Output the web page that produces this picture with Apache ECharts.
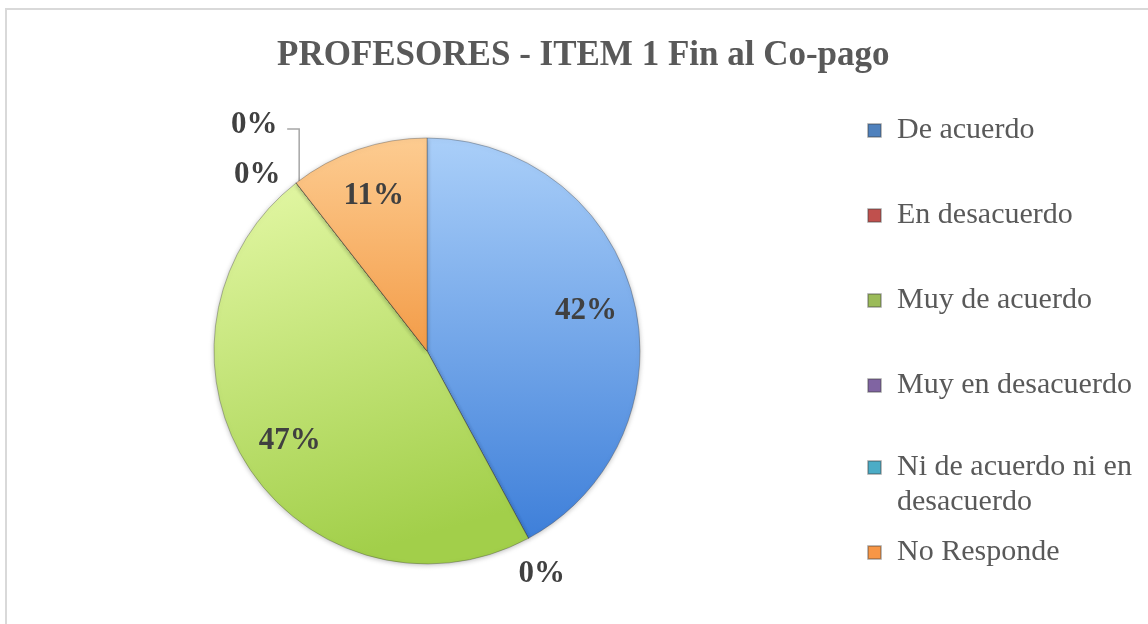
<!DOCTYPE html>
<html lang="es">
<head>
<meta charset="UTF-8">
<title>PROFESORES - ITEM 1 Fin al Co-pago</title>
<script src="https://cdn.jsdelivr.net/npm/echarts@6.0.0/dist/echarts.min.js"></script>
</head>
<body style="margin:0;">
<div id="chart" style="width:1148px;height:624px;"></div>
<script>
var categories = ['De acuerdo', 'En desacuerdo', 'Muy de acuerdo', 'Muy en desacuerdo',
    'Ni de acuerdo ni en\ndesacuerdo', 'No Responde'];
var values = [8, 0, 9, 0, 0, 2];

// relleno de cada porcion (claro arriba, oscuro abajo) y color del icono de leyenda
var pieColors = [['#aacff9', '#3e7fd9'], ['#e8a3a1', '#c0504d'], ['#e4f8a6', '#a2cf4a'],
    ['#b9a6d3', '#8064a2'], ['#a6dcea', '#4bacc6'], ['#fdcc91', '#f39c48']];
var legendColors = ['#4f81bd', '#c0504d', '#9bbb59', '#8064a2', '#4bacc6', '#f79646'];

var serif = '"Liberation Serif", "DejaVu Serif", serif';
var cx = 427, cy = 351, r = 213;
var total = values.reduce(function (a, b) { return a + b; }, 0);

function midAngle(i) {
    var s = 0;
    for (var j = 0; j < i; j++) s += values[j];
    return (s + values[i] / 2) / total * 2 * Math.PI;
}
function pt(a, k) {
    return [cx + k * r * Math.sin(a), cy - k * r * Math.cos(a)];
}

var pieData = categories.map(function (name, i) {
    var item = {
        name: name,
        value: values[i],
        itemStyle: {
            color: new echarts.graphic.LinearGradient(0, 0, i === 2 ? 0.35 : 0, 1, [
                { offset: 0, color: pieColors[i][0] },
                { offset: 1, color: pieColors[i][1] }
            ])
        }
    };
    if (i === 4) item.labelLine = { show: true };
    return item;
});

var legendData = categories.map(function (name, i) {
    return { name: name, itemStyle: { color: legendColors[i] } };
});

var legendText = { fontFamily: serif, fontSize: 30, lineHeight: 35, color: '#595959', padding: [0, 0, 0, 11] };

function makeLegend(top, items, formatter) {
    return {
        orient: 'vertical',
        left: 862,
        top: top,
        itemGap: 50,
        itemWidth: 13,
        itemHeight: 13,
        icon: 'rect',
        selectedMode: false,
        data: items,
        formatter: formatter || '{name}',
        textStyle: legendText
    };
}

var chart = echarts.init(document.getElementById('chart'));

var option = {
    backgroundColor: '#ffffff',
    animation: false,
    graphic: [{
        type: 'rect',
        shape: { x: 6, y: 9, width: 1300, height: 800 },
        style: { fill: 'none', stroke: '#d9d9d9', lineWidth: 2 },
        silent: true
    }],
    title: {
        text: 'PROFESORES - ITEM 1 Fin al Co-pago',
        left: 272,
        top: 33,
        textStyle: { fontFamily: serif, fontWeight: 'bold', fontSize: 35, color: '#595959' }
    },
    legend: [
        makeLegend(108, legendData.slice(0, 4)),
        // linea vacia delante para que el icono quede junto a la primera linea del texto
        makeLegend(410, legendData.slice(4, 5), function (name) { return '\n' + name; }),
        makeLegend(530, legendData.slice(5))
    ],
    series: [{
        type: 'pie',
        center: [cx, cy],
        radius: [0, r],
        startAngle: 90,
        clockwise: true,
        percentPrecision: 0,
        avoidLabelOverlap: false,
        data: pieData,
        itemStyle: {
            borderColor: 'rgba(60,60,60,0.35)',
            borderWidth: 1,
            shadowBlur: 5,
            shadowColor: 'rgba(0,0,0,0.25)',
            shadowOffsetY: 1
        },
        label: {
            show: true,
            position: 'outside',
            formatter: '{d}%',
            fontFamily: serif,
            fontWeight: 'bold',
            fontSize: 31,
            color: '#404040'
        },
        labelLine: {
            show: false,
            lineStyle: { color: '#a6a6a6', width: 1.5 }
        },
        labelLayout: function (p) {
            var i = p.dataIndex;
            var a = midAngle(i);
            var e = pt(a, 1);
            var q;
            if (values[i] > 0) {
                q = pt(a, 0.77);
                return { x: q[0], y: q[1], align: 'center', verticalAlign: 'middle' };
            }
            if (i === 3) {
                return { x: e[0] - 39, y: e[1] - 8, align: 'center', verticalAlign: 'middle' };
            }
            if (i === 4) {
                return {
                    x: e[0] - 42, y: e[1] - 58, align: 'center', verticalAlign: 'middle',
                    labelLinePoints: [[e[0] + 3, e[1] - 2], [e[0] + 3, e[1] - 54], [e[0] - 9, e[1] - 54]]
                };
            }
            q = pt(a, 1.19);
            return { x: q[0] - 6, y: q[1], align: 'center', verticalAlign: 'middle' };
        }
    }]
};

chart.setOption(option);
</script>
</body>
</html>
